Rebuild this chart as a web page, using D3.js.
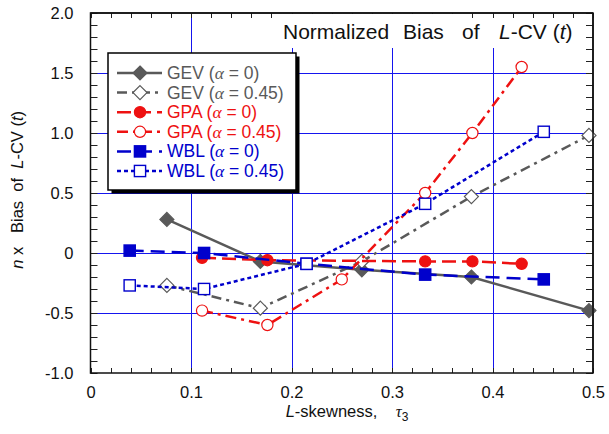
<!DOCTYPE html>
<html>
<head>
<meta charset="utf-8">
<script src="https://cdn.jsdelivr.net/npm/d3@7"></script>
<style>
  html, body { margin: 0; padding: 0; background: #fff; }
  svg { display: block; font-family: "Liberation Sans", Arial, sans-serif; }
</style>
</head>
<body>
<svg id="chart" width="609" height="434"></svg>
<script>
// L-skewness positions and normalized bias values for each distribution
const gevX   = [0.076, 0.169, 0.270, 0.379, 0.496];
const gev0   = [0.28, -0.07, -0.14, -0.20, -0.48];
const gev45  = [-0.27, -0.46, -0.07, 0.47, 0.98];

const gpaX0  = [0.111, 0.176, 0.333, 0.380, 0.429];
const gpa0   = [-0.04, -0.06, -0.07, -0.07, -0.09];
const gpaX45 = [0.111, 0.176, 0.250, 0.333, 0.380, 0.429];
const gpa45  = [-0.48, -0.60, -0.22, 0.50, 1.00, 1.55];

const wblX   = [0.039, 0.113, 0.215, 0.333, 0.451];
const wbl0   = [0.02, 0.00, -0.09, -0.18, -0.22];
const wbl45  = [-0.27, -0.30, -0.09, 0.41, 1.01];

const xTicks = [0, 0.1, 0.2, 0.3, 0.4, 0.5];
const xTickLabels = ["0", "0.1", "0.2", "0.3", "0.4", "0.5"];
const yTicks = [-1.0, -0.5, 0, 0.5, 1.0, 1.5, 2.0];
const yTickLabels = ["-1.0", "-0.5", "0", "0.5", "1.0", "1.5", "2.0"];

const GRAY = "#595959", RED = "#ee1111", BLUE = "#0000cc";

const series = [
  { name: "GEV", a: "0",    xs: gevX,   ys: gev0,  color: GRAY, dash: null,          shape: "diamond", filled: true },
  { name: "GEV", a: "0.45", xs: gevX,   ys: gev45, color: GRAY, dash: "10,5,3,5",    shape: "diamond", filled: false },
  { name: "GPA", a: "0",    xs: gpaX0,  ys: gpa0,  color: RED,  dash: "14,6",        shape: "circle",  filled: true },
  { name: "GPA", a: "0.45", xs: gpaX45, ys: gpa45, color: RED,  dash: "11,5,3,5",    shape: "circle",  filled: false },
  { name: "WBL", a: "0",    xs: wblX,   ys: wbl0,  color: BLUE, dash: "14,7",        shape: "square",  filled: true },
  { name: "WBL", a: "0.45", xs: wblX,   ys: wbl45, color: BLUE, dash: "4,3",         shape: "square",  filled: false }
];

const svg = d3.select("#chart");
const L = 90.5, R = 593, T = 13, B = 373;
const x = d3.scaleLinear().domain([0, 0.5]).range([L, R]);
const y = d3.scaleLinear().domain([-1, 2]).range([B, T]);

// grid lines
const grid = svg.append("g").attr("stroke", "#1515ee").attr("stroke-width", 1);
xTicks.slice(1, -1).forEach(v => grid.append("line")
  .attr("x1", Math.round(x(v)) + 0.5).attr("x2", Math.round(x(v)) + 0.5).attr("y1", T).attr("y2", B));
yTicks.slice(1, -1).forEach(v => grid.append("line")
  .attr("y1", Math.round(y(v)) + 0.5).attr("y2", Math.round(y(v)) + 0.5).attr("x1", L).attr("x2", R));

// minor ticks, pointing inward on all four sides
const tk = svg.append("g").attr("stroke", "#222").attr("stroke-width", 1);
d3.range(0, 0.5001, 0.02).forEach(v => {
  const px = Math.round(x(v)) + 0.5;
  tk.append("line").attr("x1", px).attr("x2", px).attr("y1", B).attr("y2", B - 5);
  tk.append("line").attr("x1", px).attr("x2", px).attr("y1", T).attr("y2", T + 5);
});
d3.range(-1, 2.0001, 0.1).forEach(v => {
  const py = Math.round(y(v)) + 0.5;
  tk.append("line").attr("y1", py).attr("y2", py).attr("x1", L).attr("x2", L + 7);
  tk.append("line").attr("y1", py).attr("y2", py).attr("x1", R).attr("x2", R - 7);
});

// frame
svg.append("rect").attr("x", L).attr("y", T).attr("width", R - L).attr("height", B - T)
  .attr("fill", "none").attr("stroke", "#111").attr("stroke-width", 1.5);

// tick labels via d3 axes
const xAxis = svg.append("g").attr("transform", `translate(0,${B})`)
  .call(d3.axisBottom(x).tickValues(xTicks).tickSize(0).tickPadding(13)
    .tickFormat((d, i) => xTickLabels[i]));
const yAxis = svg.append("g").attr("transform", `translate(${L},0)`)
  .call(d3.axisLeft(y).tickValues(yTicks).tickSize(0).tickPadding(17)
    .tickFormat((d, i) => yTickLabels[i]));
[xAxis, yAxis].forEach(g => {
  g.select(".domain").remove();
  g.selectAll("text").attr("font-size", 16.5).attr("fill", "#111")
    .attr("font-family", "'Liberation Sans', Arial, sans-serif");
});

// marker drawing
function marker(g, shape, filled, color, cx, cy) {
  const fill = filled ? color : "#fff";
  if (shape === "diamond") {
    const s = 7;
    g.append("path").attr("d", `M${cx},${cy - s}L${cx + s},${cy}L${cx},${cy + s}L${cx - s},${cy}Z`)
      .attr("fill", fill).attr("stroke", color).attr("stroke-width", 1.2);
  } else if (shape === "circle") {
    g.append("circle").attr("cx", cx).attr("cy", cy).attr("r", 5.6)
      .attr("fill", fill).attr("stroke", color).attr("stroke-width", 1.2);
  } else {
    const s = 5.6;
    g.append("rect").attr("x", cx - s).attr("y", cy - s).attr("width", 2 * s).attr("height", 2 * s)
      .attr("fill", fill).attr("stroke", color).attr("stroke-width", 1.4);
  }
}

const line = d3.line().x(d => x(d[0])).y(d => y(d[1]));
const plot = svg.append("g");
series.forEach(s => {
  const pts = s.xs.map((v, i) => [v, s.ys[i]]);
  plot.append("path").attr("d", line(pts)).attr("fill", "none")
    .attr("stroke", s.color).attr("stroke-width", 2.5)
    .attr("stroke-dasharray", s.dash);
  pts.forEach(p => marker(plot, s.shape, s.filled, s.color, x(p[0]), y(p[1])));
});

// legend with drop shadow
const lg = svg.append("g");
const lx = 108, ly = 53, lw = 188, lh = 137;
lg.append("rect").attr("x", lx + 3.5).attr("y", ly + 3.5).attr("width", lw).attr("height", lh).attr("fill", "#000");
lg.append("rect").attr("x", lx).attr("y", ly).attr("width", lw).attr("height", lh)
  .attr("fill", "#fff").attr("stroke", "#000").attr("stroke-width", 1.5);
series.forEach((s, i) => {
  const yy = 73 + i * 19.6;
  lg.append("line").attr("x1", 117).attr("x2", 162).attr("y1", yy).attr("y2", yy)
    .attr("stroke", s.color).attr("stroke-width", 2.5).attr("stroke-dasharray", s.dash);
  marker(lg, s.shape, s.filled, s.color, 140, yy);
  const t = lg.append("text").attr("x", 167).attr("y", yy + 6).attr("font-size", 17.5).attr("fill", s.color);
  t.append("tspan").text(`${s.name} (`);
  t.append("tspan").attr("font-family", "'Liberation Serif', 'Times New Roman', serif")
    .attr("font-style", "italic").text("\u03b1");
  t.append("tspan").text(` = ${s.a})`);
});

// title with white backing; words placed individually for the wide spacing
svg.append("rect").attr("x", 276).attr("y", T + 1).attr("width", R - 276 - 1).attr("height", 34).attr("fill", "#fff");
const title = svg.append("text").attr("y", 39).attr("font-size", 21).attr("fill", "#111");
title.append("tspan").attr("x", 283).text("Normalized");
title.append("tspan").attr("x", 403).text("Bias");
title.append("tspan").attr("x", 462).text("of");
title.append("tspan").attr("x", 499).attr("font-style", "italic").text("L");
title.append("tspan").text("-CV (");
title.append("tspan").attr("font-style", "italic").text("t");
title.append("tspan").text(")");
// redraw top-right minor ticks and frame over the title backing
d3.range(0.38, 0.5001, 0.02).forEach(v => {
  const px = Math.round(x(v)) + 0.5;
  svg.append("line").attr("x1", px).attr("x2", px).attr("y1", T).attr("y2", T + 5).attr("stroke", "#222");
});
[1.9, 1.8].forEach(v => {
  const py = Math.round(y(v)) + 0.5;
  svg.append("line").attr("y1", py).attr("y2", py).attr("x1", R).attr("x2", R - 7).attr("stroke", "#222");
});
svg.append("line").attr("x1", L).attr("x2", R).attr("y1", T).attr("y2", T).attr("stroke", "#111").attr("stroke-width", 1.5);
svg.append("line").attr("x1", R).attr("x2", R).attr("y1", T).attr("y2", B).attr("stroke", "#111").attr("stroke-width", 1.5);

// x-axis title
const xt = svg.append("text").attr("x", 347).attr("y", 417).attr("text-anchor", "middle")
  .attr("font-size", 16.5).attr("fill", "#111").style("white-space", "pre");
xt.append("tspan").attr("font-style", "italic").text("L");
xt.append("tspan").text("-skewness,    ");
xt.append("tspan").attr("font-family", "'Liberation Serif', 'Times New Roman', serif")
  .attr("font-style", "italic").text("\u03c4");
xt.append("tspan").attr("font-size", 12).attr("dy", 4).text("3");

// y-axis title
const yt = svg.append("text").attr("transform", "translate(23,111) rotate(-90)")
  .attr("text-anchor", "end").attr("font-size", 16.5).attr("fill", "#111").style("white-space", "pre");
yt.append("tspan").attr("font-style", "italic").text("n");
yt.append("tspan").text(" x   Bias  of  ");
yt.append("tspan").attr("font-style", "italic").text("L");
yt.append("tspan").text("-CV (");
yt.append("tspan").attr("font-style", "italic").text("t");
yt.append("tspan").text(")");
</script>
</body>
</html>
